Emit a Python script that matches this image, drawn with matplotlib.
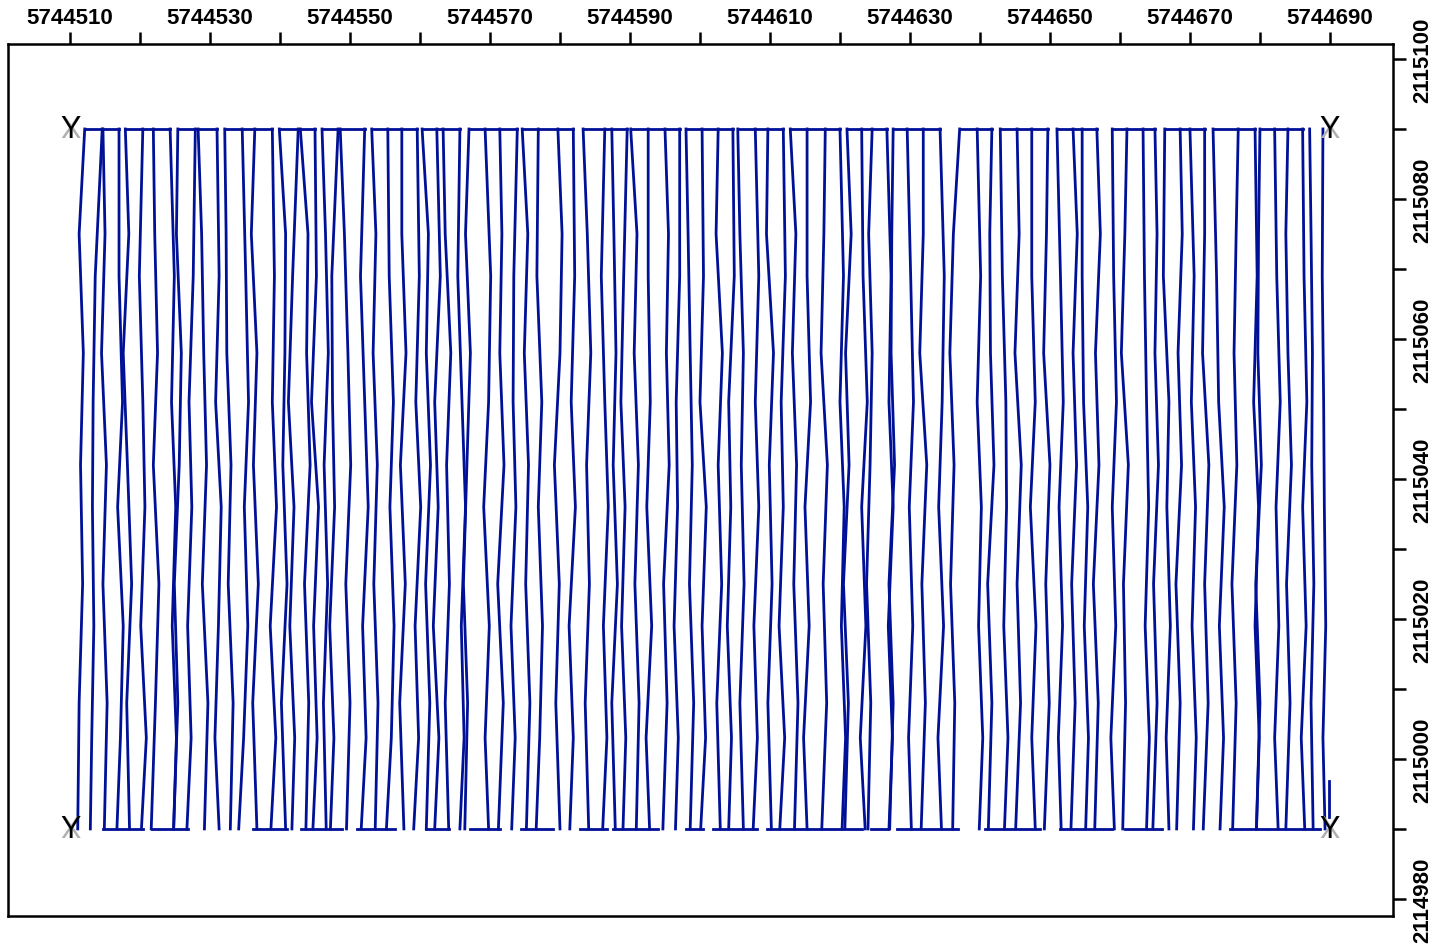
import matplotlib
matplotlib.use("Agg")
import matplotlib.pyplot as plt
from matplotlib.ticker import FixedLocator, StrMethodFormatter

# survey grid origin (easting)
x0 = 5744500

# y levels of the leg vertices (bottom -> top); odd legs use the second set
leg_y_a = [2114990, 2115008, 2115025, 2115042, 2115058, 2115075, 2115090]
leg_y_b = [2114990, 2115003, 2115019, 2115036, 2115051, 2115069, 2115090]

# x of every survey leg at the top line (metres east of x0)
leg_top = [
    12.1, 14.6, 14.7, 17.0, 17.9, 20.4, 21.9, 24.3, 25.4, 27.9, 28.3, 31.0, 32.1,
    34.6, 36.4, 38.9, 39.9, 42.6, 42.9, 45.0, 46.0, 48.3, 48.6, 52.1, 53.1, 55.4, 57.4, 59.6,
    60.3, 62.4, 63.3, 65.7, 67.0, 69.3, 71.4, 73.9, 74.6, 76.9, 79.7, 81.9, 83.3, 86.4,
    87.4, 89.6, 90.1, 92.6, 95.0, 97.1, 98.0, 100.3, 102.6, 104.7, 105.4, 107.9, 109.7, 111.9,
    112.9, 115.3, 117.9, 120.0, 121.0, 123.1, 124.6, 126.7, 127.6, 129.6, 131.9, 134.3, 137.1,
    139.6, 141.7, 142.9, 145.3, 147.4, 149.7, 151.0, 153.3, 154.6, 156.7, 158.9, 161.0, 163.3,
    165.0, 166.4, 168.6, 170.0, 172.1, 173.3, 176.9, 179.3, 180.0, 182.1, 184.0, 186.1, 187.1, 189.0,
]

# drift of each leg from its top x at the lower levels (bottom .. second from top)
leg_drift = [
    (-1.0, -0.8, -0.3, -0.6, -0.2, -0.8), (-1.7, -1.5, -1.2, -1.4, -1.3, -1.0),
    (0.2, 0.6, 0.0, 0.5, -0.2, 0.3), (-0.3, 0.2, 0.6, -0.2, 0.5, 0.0),
    (0.6, 0.2, 0.9, 0.3, -0.3, 0.5), (-0.2, 0.5, -0.3, 0.3, 0.0, -0.5),
    (-0.3, 0.3, 0.8, 0.0, 0.6, 0.2), (0.5, 0.9, 0.3, 0.8, 0.2, 0.6),
    (-0.6, 0.0, -0.5, 0.2, 0.5, -0.2), (-1.2, -0.6, -1.1, -0.5, -0.9, -0.3),
    (0.9, 1.4, 0.6, 1.2, 0.8, 0.5), (0.3, -0.3, 0.2, 0.6, -0.2, 0.3),
    (0.8, 1.2, 0.5, 0.9, 0.3, 0.2), (-0.5, 0.2, 0.8, 0.3, 0.9, 0.5),
    (0.3, -0.3, 0.5, -0.2, 0.3, -0.5), (-0.2, 0.5, -0.3, 0.6, 0.0, 0.3),
    (0.9, 0.3, 1.1, 0.5, 0.8, 0.9), (-0.9, -0.5, -1.2, -0.6, -1.4, -0.8),
    (0.8, 1.2, 0.6, 1.4, 0.9, 1.1), (-0.3, 0.3, -0.2, 0.5, -0.5, 0.2),
    (0.6, 0.2, 0.8, 0.3, 0.9, 0.5), (-1.1, -0.6, -1.2, -0.5, -0.8, -0.9),
    (0.9, 1.4, 0.8, 1.5, 1.1, 0.6), (-0.5, 0.2, -0.3, 0.5, 0.0, -0.6),
    (0.5, 0.9, 0.3, 0.8, 0.2, 0.6), (-0.2, 0.5, 0.9, 0.3, 0.8, 0.2),
    (0.3, -0.3, 0.5, -0.2, 0.6, 0.0), (-0.5, 0.2, -0.3, 0.5, -0.2, 0.3),
    (0.6, 1.1, 0.5, 1.2, 0.6, 0.9), (-0.3, 0.3, -0.5, 0.2, -0.3, 0.5),
    (0.8, 0.3, 0.9, 0.5, 1.1, 0.3), (0.0, 0.6, 0.2, 0.8, 0.3, -0.3),
    (-0.6, -0.2, -0.8, -0.3, 0.2, -0.5), (0.5, 0.0, 0.6, -0.2, 0.5, 0.8),
    (-0.2, 0.5, -0.3, 0.6, 0.0, 0.3), (-0.8, -0.3, -0.9, -0.2, -0.6, -0.5),
    (0.6, 1.1, 0.5, 0.9, 0.3, 0.8), (-0.3, 0.2, 0.6, 0.0, 0.5, -0.2),
    (0.3, -0.3, 0.2, -0.5, 0.3, 0.6), (-0.5, 0.0, -0.6, 0.3, -0.3, 0.2),
    (0.8, 0.3, 0.9, 0.5, 1.1, 0.6), (-0.3, 0.3, -0.2, 0.5, 0.0, -0.5),
    (0.5, 0.0, 0.8, 0.2, 0.6, 0.3), (-0.6, -0.2, -0.8, -0.3, -0.9, -0.5),
    (0.8, 1.2, 0.6, 1.1, 0.5, 0.9), (0.2, -0.3, 0.5, -0.2, 0.3, 0.0),
    (-0.3, 0.3, -0.2, 0.6, 0.2, 0.5), (-0.6, -0.2, -0.8, -0.3, -0.5, 0.0),
    (0.6, 1.1, 0.5, 0.9, 0.6, 0.3), (-0.2, 0.5, 0.0, 0.6, -0.3, 0.2),
    (0.3, -0.2, 0.5, 0.0, 0.6, -0.3), (-0.6, -0.2, -0.8, -0.3, -0.6, 0.2),
    (0.8, 0.3, 0.9, 0.5, 0.8, 0.3), (-0.3, 0.3, -0.2, 0.5, 0.0, 0.5),
    (0.5, 0.0, 0.6, 0.2, 0.8, -0.2), (-0.5, 0.2, -0.6, 0.0, -0.3, 0.3),
    (0.6, 1.1, 0.5, 0.9, 0.3, 0.8), (0.0, -0.5, 0.3, -0.3, 0.5, 0.0),
    (-0.5, 0.2, -0.3, 0.3, -0.6, -0.2), (0.3, 0.8, 0.2, 0.6, 0.0, 0.5),
    (-0.3, 0.2, -0.5, 0.3, -0.2, 0.6), (0.5, -0.2, 0.6, 0.0, 0.8, 0.2),
    (-0.6, -0.2, -0.8, -0.3, 0.0, -0.5), (0.3, 0.8, 0.2, 0.9, 0.3, 0.6),
    (-0.5, 0.0, -0.6, 0.2, -0.3, -0.2), (0.6, 0.2, 0.8, 0.3, 0.9, 0.5),
    (-0.3, 0.3, -0.2, 0.5, -0.5, 0.0), (0.2, -0.3, 0.5, -0.2, 0.3, 0.6),
    (-1.0, -0.7, -1.3, -0.8, -1.4, -0.9), (0.3, 0.8, 0.2, 0.6, 0.0, 0.5),
    (-0.5, 0.0, -0.6, 0.3, -0.2, -0.3), (0.6, 1.1, 0.5, 0.9, 0.8, 0.3),
    (-0.2, 0.5, 0.0, 0.6, -0.3, 0.3), (0.5, 0.0, 0.6, -0.2, 0.5, 0.0),
    (-0.5, 0.2, -0.3, 0.3, -0.6, -0.2), (0.6, 0.2, 0.8, 0.3, 0.9, 0.5),
    (-0.3, 0.3, -0.2, 0.5, 0.0, 0.6), (0.5, 0.9, 0.3, 0.8, 0.2, 0.0),
    (-0.3, 0.2, -0.5, 0.3, -0.2, 0.5), (0.3, -0.2, 0.5, 0.0, 0.6, 0.2),
    (-0.6, -0.2, -0.5, 0.2, -0.8, -0.3), (0.5, 0.9, 0.3, 0.8, 0.5, 0.2),
    (-0.3, 0.3, -0.2, 0.5, 0.0, 0.3), (0.6, 0.2, 0.8, 0.3, 0.6, -0.2),
    (-0.5, 0.0, -0.6, 0.2, -0.3, 0.3), (0.5, 0.9, 0.3, 0.8, 0.2, 0.6),
    (-0.2, 0.5, 0.0, 0.6, -0.3, 0.0), (1.0, 1.5, 0.9, 1.6, 0.8, 0.5),
    (-0.8, -0.3, -0.9, -0.2, -0.6, -0.3), (0.2, 0.6, 0.0, 0.5, -0.2, 0.3),
    (-0.5, 0.0, -0.6, 0.2, -0.3, -0.2), (0.5, 0.0, 0.6, 0.2, 0.8, 0.3),
    (-0.3, 0.3, -0.2, 0.5, 0.0, -0.3), (0.3, -0.2, 0.5, 0.0, 0.6, 0.2),
    (0.5, 0.2, 0.6, 0.3, 0.4, 0.2), (0.3, 0.0, 0.4, 0.2, 0.1, -0.1),
]

# turn segments joining legs along the top and bottom lines (metres east of x0)
top_turns = [
    (12.1, 17.0), (17.9, 24.3), (25.4, 31.0), (32.1, 38.9), (39.9, 45.0), (46.0, 52.1),
    (53.1, 59.6), (60.3, 65.7), (67.0, 73.9), (74.6, 81.9), (83.3, 89.6), (90.1, 97.1),
    (98.0, 104.7), (105.4, 111.9), (112.9, 120.0), (121.0, 126.7), (127.6, 134.3),
    (137.1, 141.7), (142.9, 149.7), (151.0, 156.7), (158.9, 165.0), (166.4, 172.1),
    (173.3, 179.3), (180.0, 186.1),
]
bottom_turns = [
    (14.7, 20.4), (21.7, 26.9), (36.1, 41.0), (43.0, 48.9), (51.0, 56.4), (60.8, 64.2),
    (67.2, 71.5), (74.4, 79.0), (82.9, 86.7), (87.6, 94.0), (98.0, 100.5), (101.9, 108.1),
    (109.6, 123.1), (124.4, 126.9), (128.1, 136.9), (140.7, 148.6), (151.4, 158.9),
    (160.7, 166.0), (175.7, 188.6),
]

# short extra run at the south-east corner
stub_x = 189.9
stub_y = (2114991.7, 2114996.9)

# corner control points
corners_x = [5744510, 5744690, 5744510, 5744690]
corners_y = [2115090, 2115090, 2114990, 2114990]

x_ticks = list(range(5744510, 5744691, 20))
x_minor = list(range(5744520, 5744681, 20))
y_ticks = list(range(2114980, 2115101, 20))
y_minor = list(range(2114990, 2115091, 20))

track = "#001197"
lw = 2.0

fig = plt.figure(figsize=(14.31, 9.45), dpi=100)
ax = fig.add_axes([0.0056, 0.0296, 0.9678, 0.9228])

for i, (top, drift) in enumerate(zip(leg_top, leg_drift)):
    xs = [x0 + top + d for d in drift] + [x0 + top]
    ys = leg_y_b if i % 2 else leg_y_a
    ax.plot(xs, ys, color=track, lw=lw)

for a, b in top_turns:
    ax.plot([x0 + a, x0 + b], [leg_y_a[-1], leg_y_a[-1]], color=track, lw=lw)
for a, b in bottom_turns:
    ax.plot([x0 + a, x0 + b], [leg_y_a[0], leg_y_a[0]], color=track, lw=lw)
ax.plot([x0 + stub_x, x0 + stub_x], stub_y, color=track, lw=lw)

for cx, cy in zip(corners_x, corners_y):
    ax.text(cx, cy, "X", color="#b0b0b0", fontsize=22, ha="center", va="center",
            family="Liberation Sans", zorder=5)
    ax.text(cx, cy, "Y", color="black", fontsize=22, ha="center", va="center",
            family="Liberation Sans", zorder=6)

ax.set_xlim(5744501.14, 5744699.0)
ax.set_ylim(2114977.6, 2115102.1)
ax.set_aspect("equal", adjustable="box")

ax.xaxis.tick_top()
ax.yaxis.tick_right()
ax.xaxis.set_major_locator(FixedLocator(x_ticks))
ax.xaxis.set_minor_locator(FixedLocator(x_minor))
ax.yaxis.set_major_locator(FixedLocator(y_ticks))
ax.yaxis.set_minor_locator(FixedLocator(y_minor))
ax.xaxis.set_major_formatter(StrMethodFormatter("{x:.0f}"))
ax.yaxis.set_major_formatter(StrMethodFormatter("{x:.0f}"))
ax.tick_params(which="both", direction="out", length=9, width=1.8, color="black")
ax.tick_params(axis="x", which="major", pad=3, labelsize=16)
ax.tick_params(axis="y", which="major", pad=5, labelsize=16)
for lab in ax.get_xticklabels():
    lab.set_fontweight("bold")
    lab.set_family("Liberation Sans")
for lab in ax.get_yticklabels():
    lab.set_fontweight("bold")
    lab.set_family("Liberation Sans")
    lab.set_rotation(90)
    lab.set_va("center")

for sp in ax.spines.values():
    sp.set_linewidth(1.8)
    sp.set_color("black")

fig.savefig("out.png", dpi=100)
